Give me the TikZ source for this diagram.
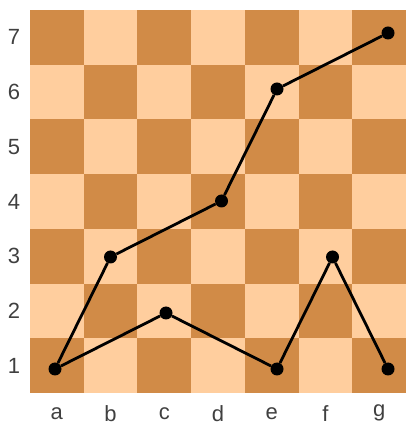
\documentclass[tikz,border=0pt]{standalone}
\usepackage{fontspec}
\setmainfont{Liberation Sans}
\usetikzlibrary{positioning}
\definecolor{darksq}{RGB}{209,139,71}
\definecolor{lightsq}{RGB}{255,206,158}
\definecolor{labelgray}{RGB}{64,64,64}
\begin{document}
\begin{tikzpicture}[x=53.71pt, y=54.71pt]

\tikzset{
  stone/.style={circle, fill=black, inner sep=0pt, minimum size=13pt},
  path/.style={line width=2.8pt, black},
  coordlabel/.style={font=\fontsize{22}{24}\selectfont, text=labelgray}
}

\useasboundingbox (-30pt,-35pt) rectangle (376pt,393pt);

% board
\foreach \i in {1,...,7}{
  \foreach \j in {1,...,7}{
    \pgfmathtruncatemacro\parity{mod(\i+\j,2)}
    \ifnum\parity=0
      \fill[darksq] (\i-1,\j-1) rectangle (\i,\j);
    \else
      \fill[lightsq] (\i-1,\j-1) rectangle (\i,\j);
    \fi
  }
}

% file and rank labels
\foreach \f [count=\i] in {a,b,c,d,e,f,g}
  \node[coordlabel] (file\f) at (\i-0.5,-0.37) {\f};
\foreach \j in {1,...,7}
  \node[coordlabel] (rank\j) at (-0.3,\j-0.5) {\j};

% stones (on a slightly wider grid than the squares)
\begin{scope}[shift={(25pt,24pt)}, x=55.5pt, y=56pt]
  \node[stone] (a1) at (0,0) {};
  \node[stone] (b3) at (1,2) {};
  \node[stone] (c2) at (2,1) {};
  \node[stone] (d4) at (3,3) {};
  \node[stone] (e6) at (4,5) {};
  \node[stone] (g7) at (6,6) {};
  \node[stone] (e1) at (4,0) {};
  \node[stone] (f3) at (5,2) {};
  \node[stone] (g1) at (6,0) {};
\end{scope}

% upper path
\draw[path] (a1) -- (b3) -- (d4) -- (e6) -- (g7);
% lower path
\draw[path] (a1) -- (c2) -- (e1) -- (f3) -- (g1);

\end{tikzpicture}
\end{document}
